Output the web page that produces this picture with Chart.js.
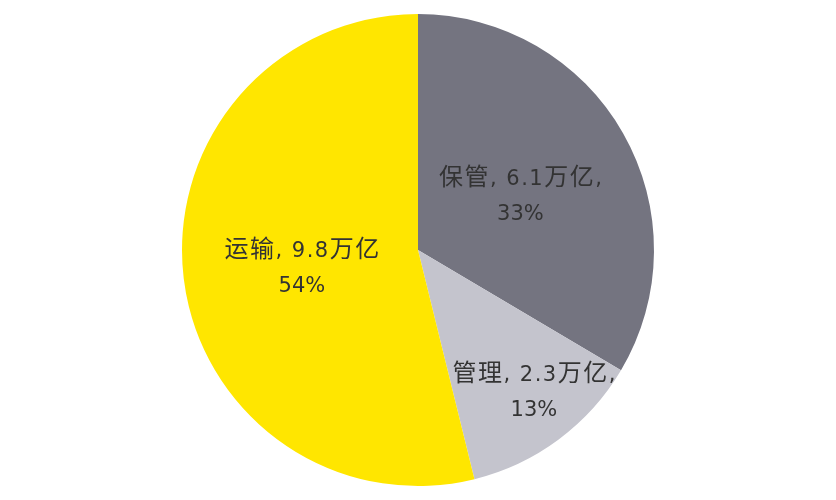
<!DOCTYPE html>
<html>
<head>
<meta charset="utf-8">
<script src="https://cdn.jsdelivr.net/npm/chart.js@4/dist/chart.umd.min.js"></script>
<style>
  html, body { margin: 0; padding: 0; background: #fff; }
  #wrap { width: 836px; height: 500px; }
</style>
</head>
<body>
<div id="wrap"><canvas id="pie"></canvas></div>
<script>
// DATA
const labels = ['保管', '管理', '运输'];
const values = [6.1, 2.3, 9.8];          // 万亿
const percents = ['33%', '13%', '54%'];
const colors = ['#747480', '#c4c4cd', '#ffe600'];

// label placement: fraction of radius plus a small nudge, trailing comma or not
const labelRadius = [0.48, 0.76, 0.5];
const labelNudge = [[4, 2], [9, -3], [1, 3]];
const trailingComma = [true, true, false];

const latinFont = '21px "DejaVu Sans", sans-serif';
const cjkFont = '24px "Noto Sans CJK SC", sans-serif';

// DRAW A MIXED LINE: CJK RUNS A BIT LARGER THAN THE LATIN RUNS
function drawMixed(ctx, text, cx, cy, spacing) {
  ctx.letterSpacing = spacing + 'px';
  const runs = text.match(/[\u4e00-\u9fff]+|[^\u4e00-\u9fff]+/g);
  const parts = runs.map((t) => {
    const font = /[\u4e00-\u9fff]/.test(t) ? cjkFont : latinFont;
    ctx.font = font;
    return { t, font, w: ctx.measureText(t).width };
  });
  const total = parts.reduce((s, p) => s + p.w, 0) - spacing;
  let x = cx - total / 2;
  parts.forEach((p) => {
    ctx.font = p.font;
    ctx.fillText(p.t, x, cy + 7.5);
    x += p.w;
  });
}

// SLICE LABELS DRAWN INSIDE THE PIE
const sliceLabels = {
  id: 'sliceLabels',
  afterDatasetsDraw(chart) {
    const ctx = chart.ctx;
    const meta = chart.getDatasetMeta(0);
    ctx.save();
    ctx.fillStyle = '#333333';
    ctx.textAlign = 'left';
    ctx.textBaseline = 'alphabetic';
    meta.data.forEach((arc, i) => {
      const mid = (arc.startAngle + arc.endAngle) / 2;
      const r = arc.outerRadius * labelRadius[i];
      const x = arc.x + Math.cos(mid) * r + labelNudge[i][0];
      const y = arc.y + Math.sin(mid) * r + labelNudge[i][1];
      const line1 = labels[i] + ', ' + values[i] + '万亿' + (trailingComma[i] ? ',' : '');
      drawMixed(ctx, line1, x, y - 18, 1.5);
      drawMixed(ctx, percents[i], x, y + 17, 0);
    });
    ctx.restore();
  }
};

new Chart(document.querySelector('#pie'), {
  type: 'pie',
  data: {
    labels: labels,
    datasets: [{
      data: values,
      backgroundColor: colors,
      borderWidth: 0
    }]
  },
  options: {
    responsive: true,
    maintainAspectRatio: false,
    animation: false,
    layout: { padding: { top: 14, bottom: 14 } },
    plugins: {
      legend: { display: false },
      tooltip: { enabled: false }
    }
  },
  plugins: [sliceLabels]
});
</script>
</body>
</html>
